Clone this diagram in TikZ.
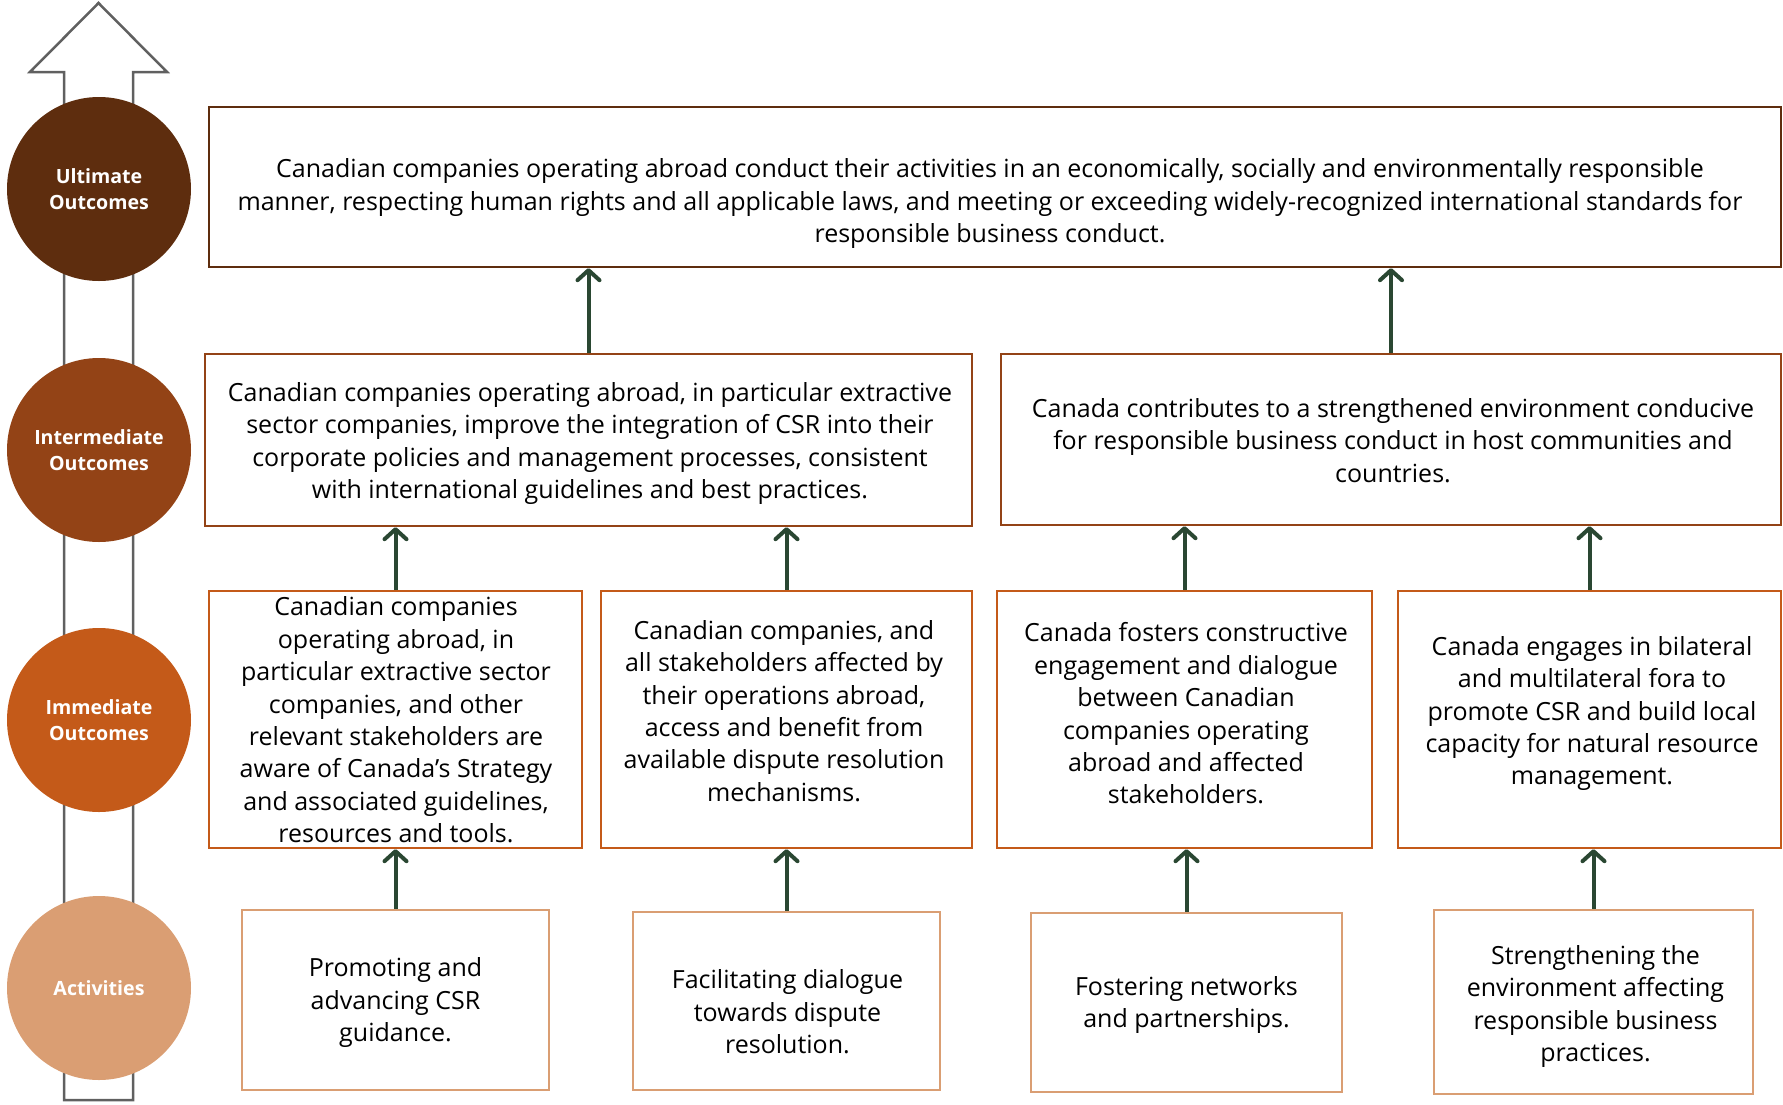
\documentclass[tikz,border=0pt]{standalone}
\usepackage{fontspec}
\setmainfont{Open Sans}
\usetikzlibrary{arrows.meta,calc}

\definecolor{ultbrown}{HTML}{5E2D0E}
\definecolor{intbrown}{HTML}{934316}
\definecolor{immorange}{HTML}{C45A19}
\definecolor{acttan}{HTML}{DA9E73}
\definecolor{flowgreen}{HTML}{2A4732}
\definecolor{axisgray}{HTML}{606060}

\begin{document}
\begin{tikzpicture}[
  x=1pt, y=-1pt,
  font=\fontsize{25}{32.4}\selectfont,
  stage/.style={circle, minimum size=184pt, inner sep=0pt, text=white, align=center, font=\fontsize{19.6}{26}\selectfont\bfseries},
  panel/.style={draw, line width=2.4pt, fill=white, inner sep=0pt},
  txt/.style={align=center, inner sep=0pt},
  flow/.style={draw=flowgreen, line width=4pt, -{Straight Barb[length=10pt,width=22pt,line cap=round,line join=round]}}
]
\useasboundingbox (0,0) rectangle (1783,1104);
% hollow arrow behind the stage circles
\draw[line width=2.5pt, draw=axisgray, fill=white] (64,1100) -- (64,72) -- (30,72) -- (98.5,3) -- (167,72) -- (133,72) -- (133,1100) -- cycle;
\node[stage, fill=ultbrown] (ultc) at (99,189) {Ultimate\\Outcomes};
\node[stage, fill=intbrown] (intc) at (99,450) {Intermediate\\Outcomes};
\node[stage, fill=immorange] (immc) at (99,720) {Immediate\\Outcomes};
\node[stage, fill=acttan] (actc) at (99,988) {Activities};
% ultimate outcome
\node[panel, draw=ultbrown, minimum width=1572pt, minimum height=160pt] (ult) at (995,187) {};
\node[txt] (ult-txt) at (990,203.5) {Canadian companies operating abroad conduct their activities in an economically, socially and environmentally responsible\\ manner, respecting human rights and all applicable laws, and meeting or exceeding widely-recognized international standards for\\ responsible business conduct.};
% intermediate outcomes
\node[panel, draw=intbrown, minimum width=767pt, minimum height=172pt] (intA) at (588.5,440) {};
\node[txt] (intA-txt) at (590,443.5) {Canadian companies operating abroad, in particular extractive\\ sector companies, improve the integration of CSR into their\\ corporate policies and management processes, consistent\\ with international guidelines and best practices.};
\node[panel, draw=intbrown, minimum width=780pt, minimum height=171pt] (intB) at (1391,439.5) {};
\node[txt] (intB-txt) at (1393,440.5) {Canada contributes to a strengthened environment conducive\\ for responsible business conduct in host communities and\\ countries.};
% immediate outcomes
\node[panel, draw=immorange, minimum width=373pt, minimum height=257pt] (immA) at (395.5,719.5) {};
\node[txt] (immA-txt) at (396,720) {Canadian companies\\ operating abroad, in\\ particular extractive sector\\ companies, and other\\ relevant stakeholders are\\ aware of Canada’s Strategy\\ and associated guidelines,\\ resources and tools.};
\node[panel, draw=immorange, minimum width=371pt, minimum height=257pt] (immB) at (786.5,719.5) {};
\node[txt] (immB-txt) at (784,711) {Canadian companies, and\\ all stakeholders affected by\\ their operations abroad,\\ access and benefit from\\ available dispute resolution\\ mechanisms.};
\node[panel, draw=immorange, minimum width=375pt, minimum height=257pt] (immC) at (1184.5,719.5) {};
\node[txt] (immC-txt) at (1186,713.5) {Canada fosters constructive\\ engagement and dialogue\\ between Canadian\\ companies operating\\ abroad and affected\\ stakeholders.};
\node[panel, draw=immorange, minimum width=383pt, minimum height=257pt] (immD) at (1589.5,719.5) {};
\node[txt] (immD-txt) at (1592,713.5) {Canada engages in bilateral\\ and multilateral fora to\\ promote CSR and build local\\ capacity for natural resource\\ management.};
% activities
\node[panel, draw=acttan, minimum width=307pt, minimum height=180pt] (actA) at (395.5,1000) {};
\node[txt] (actA-txt) at (395.5,1002.5) {Promoting and\\ advancing CSR\\ guidance.};
\node[panel, draw=acttan, minimum width=307pt, minimum height=178pt] (actB) at (786.5,1001) {};
\node[txt] (actB-txt) at (787.5,1012) {Facilitating dialogue\\ towards dispute\\ resolution.};
\node[panel, draw=acttan, minimum width=311pt, minimum height=179pt] (actC) at (1186.5,1002.5) {};
\node[txt] (actC-txt) at (1186.5,1005) {Fostering networks\\ and partnerships.};
\node[panel, draw=acttan, minimum width=319pt, minimum height=184pt] (actD) at (1593.5,1002) {};
\node[txt] (actD-txt) at (1595.5,1006.5) {Strengthening the\\ environment affecting\\ responsible business\\ practices.};
% links upwards
\draw[flow] (intA.north) -- (intA.north |- ult.south);
\draw[flow] (intB.north) -- (intB.north |- ult.south);
\draw[flow] (immA.north) -- (immA.north |- intA.south);
\draw[flow] (immB.north) -- (immB.north |- intA.south);
\draw[flow] (immC.north) -- (immC.north |- intB.south);
\draw[flow] (immD.north) -- (immD.north |- intB.south);
\draw[flow] (actA.north) -- (actA.north |- immA.south);
\draw[flow] (actB.north) -- (actB.north |- immB.south);
\draw[flow] (actC.north) -- (actC.north |- immC.south);
\draw[flow] (actD.north) -- (actD.north |- immD.south);
\end{tikzpicture}
\end{document}
